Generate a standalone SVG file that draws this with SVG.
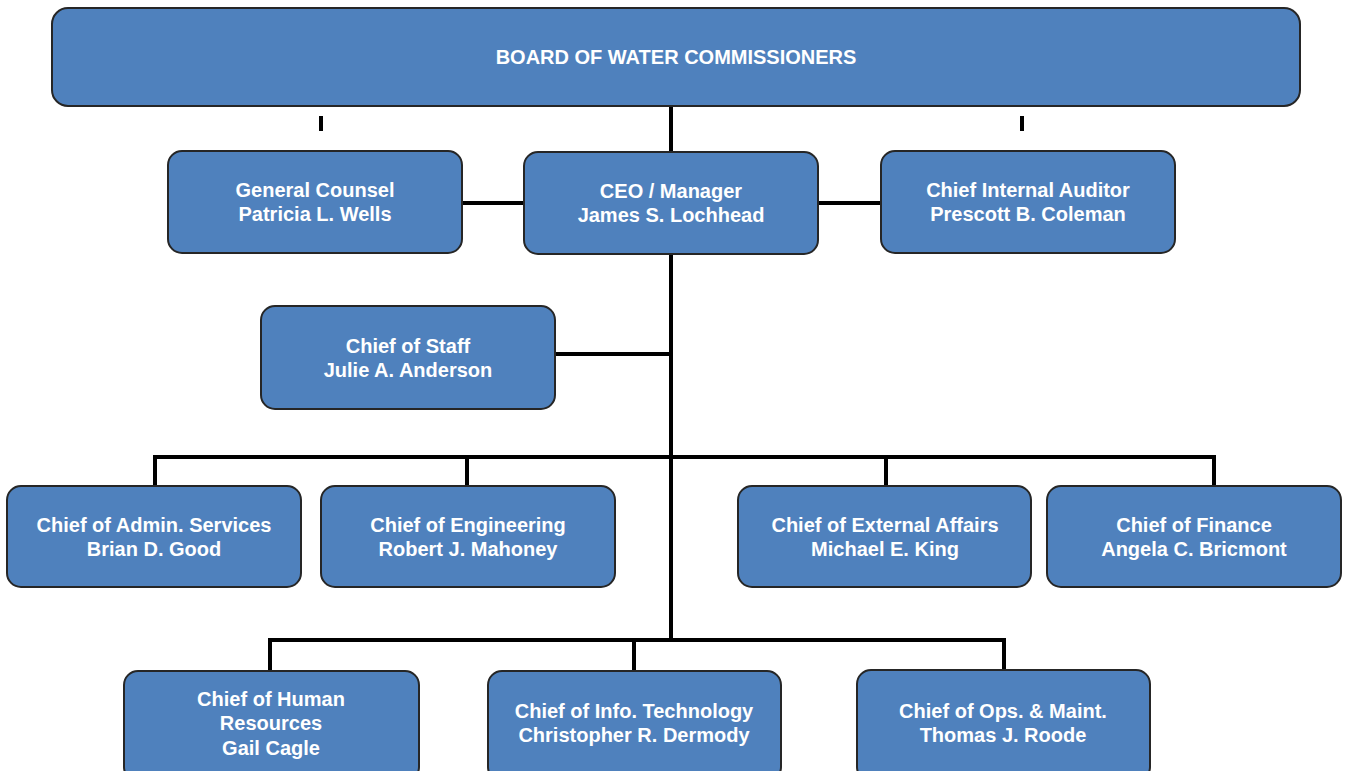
<svg xmlns="http://www.w3.org/2000/svg" width="1346" height="771" viewBox="0 0 1346 771">
<style>
.box{fill:#4f81bd;stroke:#262626;stroke-width:2}
.t{font-family:"Liberation Sans",Arial,sans-serif;font-weight:bold;font-size:20px;fill:#ffffff;text-anchor:middle}
.ln{stroke:#000;stroke-width:4;fill:none}
</style>
<rect width="1346" height="771" fill="#fff"/>
<g id="connectors">
<path class="ln" d="M671 106V152M671 254V640M555 354H671M462 203H524M818 203H881"/>
<path class="ln" d="M155 486V457H1214V486M467 457V486M886 457V486"/>
<path class="ln" d="M270 671V640H1004V671M634 640V671"/>
<path class="ln" d="M321 116V131M1022 116V131"/>
</g>
<g id="board"><rect class="box" x="52" y="8" width="1248" height="98" rx="16"/><text class="t" x="676" y="64">BOARD OF WATER COMMISSIONERS</text></g>
<g id="counsel"><rect class="box" x="168" y="151" width="294" height="102" rx="14"/><text class="t" x="315" y="197">General Counsel</text><text class="t" x="315" y="221">Patricia L. Wells</text></g>
<g id="ceo"><rect class="box" x="524" y="152" width="294" height="102" rx="14"/><text class="t" x="671" y="198">CEO / Manager</text><text class="t" x="671" y="222">James S. Lochhead</text></g>
<g id="auditor"><rect class="box" x="881" y="151" width="294" height="102" rx="14"/><text class="t" x="1028" y="197">Chief Internal Auditor</text><text class="t" x="1028" y="221">Prescott B. Coleman</text></g>
<g id="staff"><rect class="box" x="261" y="306" width="294" height="103" rx="14"/><text class="t" x="408" y="353">Chief of Staff</text><text class="t" x="408" y="377">Julie A. Anderson</text></g>
<g id="admin"><rect class="box" x="7" y="486" width="294" height="101" rx="14"/><text class="t" x="154" y="532">Chief of Admin. Services</text><text class="t" x="154" y="556">Brian D. Good</text></g>
<g id="engineering"><rect class="box" x="321" y="486" width="294" height="101" rx="14"/><text class="t" x="468" y="532">Chief of Engineering</text><text class="t" x="468" y="556">Robert J. Mahoney</text></g>
<g id="external"><rect class="box" x="738" y="486" width="293" height="101" rx="14"/><text class="t" x="885" y="532">Chief of External Affairs</text><text class="t" x="885" y="556">Michael E. King</text></g>
<g id="finance"><rect class="box" x="1047" y="486" width="294" height="101" rx="14"/><text class="t" x="1194" y="532">Chief of Finance</text><text class="t" x="1194" y="556">Angela C. Bricmont</text></g>
<g id="hr"><rect class="box" x="124" y="671" width="295" height="110" rx="14"/><text class="t" x="271" y="706">Chief of Human</text><text class="t" x="271" y="730">Resources</text><text class="t" x="271" y="755">Gail Cagle</text></g>
<g id="it"><rect class="box" x="488" y="671" width="293" height="110" rx="14"/><text class="t" x="634" y="718">Chief of Info. Technology</text><text class="t" x="634" y="742">Christopher R. Dermody</text></g>
<g id="ops"><rect class="box" x="857" y="670" width="293" height="111" rx="14"/><text class="t" x="1003" y="718">Chief of Ops. &amp; Maint.</text><text class="t" x="1003" y="742">Thomas J. Roode</text></g>
</svg>
